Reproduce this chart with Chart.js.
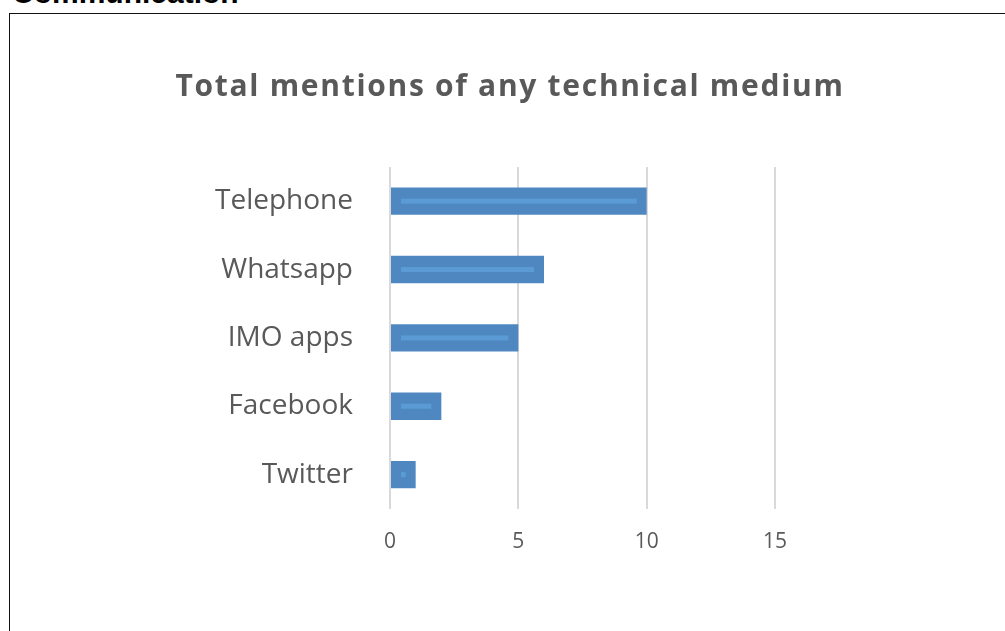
<!DOCTYPE html>
<html>
<head>
<meta charset="utf-8">
<script src="https://cdn.jsdelivr.net/npm/chart.js@4"></script>
<style>
  html, body { margin: 0; padding: 0; background: #fff; overflow: hidden; }
  body { width: 1005px; height: 631px; position: relative; }
  #caption { position: absolute; left: 12px; top: -22px; font: bold 30px "Liberation Sans", sans-serif; line-height: 30px; color: #000; white-space: nowrap; }
  #box { position: absolute; left: 9px; top: 13px; width: 1010px; height: 640px; border: 1.5px solid #111; box-sizing: border-box; }
  #wrap { position: absolute; left: 0; top: 0; width: 1005px; height: 631px; }
</style>
</head>
<body>
<div id="caption">Communication</div>
<div id="box"></div>
<div id="wrap"><canvas id="myChart"></canvas></div>
<script>
var categorias = ["Telephone", "Whatsapp", "IMO apps", "Facebook", "Twitter"];
var mencoes = [10, 6, 5, 2, 1];
var eixo_x = [0, 5, 10, 15];

// faixa mais clara dentro de cada barra + espacamento das letras do titulo
var faixa = {
  id: "faixa",
  afterLayout: function (chart) {
    var t = chart.titleBlock;
    if (t && !t._espacado) {
      var desenha = t.draw.bind(t);
      t.draw = function () {
        chart.ctx.save();
        chart.ctx.letterSpacing = "1.7px";
        desenha();
        chart.ctx.restore();
      };
      t._espacado = true;
    }
  },
  afterDatasetsDraw: function (chart) {
    var ctx = chart.ctx;
    var meta = chart.getDatasetMeta(0);
    ctx.save();
    ctx.fillStyle = "#5a9bd6";
    meta.data.forEach(function (bar) {
      var x0 = bar.base + 10;
      var x1 = bar.x - 10;
      if (x1 - x0 < 4) { x0 = (bar.base + bar.x) / 2 - 2; x1 = x0 + 4; }
      ctx.fillRect(x0, bar.y - 2.5, x1 - x0, 5);
    });
    ctx.restore();
  }
};

function dados_barra(linha, coluna) {
  var ctx = document.getElementById("myChart").getContext("2d");
  var myChart = new Chart(ctx, {
    type: "bar",
    data: {
      labels: linha,
      datasets: [
        {
          label: "Mentions",
          data: coluna,
          backgroundColor: "#4f88c1",
          borderWidth: 0,
          categoryPercentage: 1,
          barPercentage: 0.4,
        },
      ],
    },
    options: {
      indexAxis: "y",
      responsive: false,
      animation: false,
      events: [],
      layout: { padding: { left: 20, right: 5, top: 10, bottom: 55 } },
      plugins: {
        legend: { display: false },
        tooltip: { enabled: false },
        title: {
          display: true,
          text: "Total mentions of any technical medium",
          color: "#595959",
          font: { family: "Open Sans", size: 30, weight: "bold" },
          padding: { top: 59, bottom: 62 },
        },
      },
      scales: {
        x: {
          min: 0,
          max: 15,
          afterBuildTicks: function (axis) {
            axis.ticks = eixo_x.map(function (v) { return { value: v }; });
          },
          grid: { color: "#d9d9d9", lineWidth: 2, drawTicks: false },
          border: { display: false },
          ticks: { color: "#595959", padding: 21, font: { family: "Open Sans", size: 21 } },
        },
        y: {
          afterFit: function (axis) { axis.width = 370; },
          grid: { display: false, drawTicks: false },
          border: { display: false },
          ticks: { color: "#595959", padding: 37, font: { family: "Open Sans", size: 28 } },
        },
        direita: {
          type: "linear",
          position: "right",
          afterFit: function (axis) { axis.width = 225; },
          grid: { display: false, drawTicks: false },
          border: { display: false },
          ticks: { display: false },
        },
      },
    },
    plugins: [faixa],
  });
}

var canvas = document.getElementById("myChart");
canvas.width = 1005;
canvas.height = 631;
dados_barra(categorias, mencoes);
</script>
</body>
</html>
